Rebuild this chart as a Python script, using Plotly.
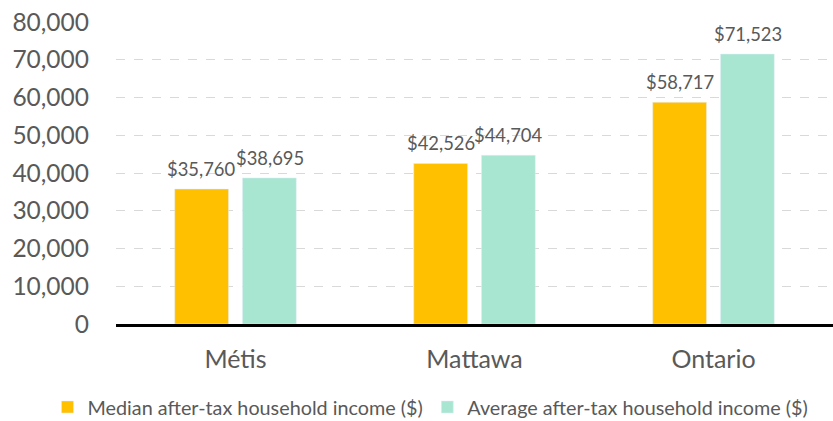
import plotly.graph_objects as go

categories = ["Métis", "Mattawa", "Ontario"]
median_income = [35760, 42526, 58717]
average_income = [38695, 44704, 71523]
series_names = ["Median after-tax household income ($)", "Average after-tax household income ($)"]
y_ticks = list(range(0, 80001, 10000))

FONT = "Lato, Calibri, Carlito, sans-serif"
GREY = "#595959"

fig = go.Figure()
for name, vals, color, lg in [(series_names[0], median_income, "#FFC000", "legend"),
                              (series_names[1], average_income, "#A8E6D2", "legend2")]:
    fig.add_trace(go.Bar(
        x=categories, y=vals, name=name, marker_color=color, legend=lg,
        cliponaxis=False,
    ))

# data labels placed over each bar of the group (offset = half a bar slot)
for vals, xshift in [(median_income, -34), (average_income, 34)]:
    for cat, v in zip(categories, vals):
        fig.add_annotation(x=cat, y=v, xref="x", yref="y", text=f"${v:,}",
                           showarrow=False, yanchor="bottom", xanchor="center",
                           xshift=xshift, yshift=7,
                           font=dict(size=18.4, color=GREY, family=FONT))

leg_common = dict(orientation="h", xref="container", yref="container",
                  xanchor="left", y=0.033, yanchor="middle",
                  font=dict(size=19.8, color=GREY, family=FONT),
                  itemwidth=30, bgcolor="rgba(0,0,0,0)")

fig.update_layout(
    width=833, height=421,
    margin=dict(l=116, r=0, t=22, b=97),
    paper_bgcolor="white", plot_bgcolor="white",
    barmode="group", bargap=0.433, bargroupgap=0.206,
    font=dict(family=FONT, color=GREY),
    showlegend=True,
    legend=dict(x=0.057, **leg_common),
    legend2=dict(x=0.513, **leg_common),
)
fig.update_yaxes(range=[0, 80000], tickvals=y_ticks, tickformat=",",
                 showgrid=True, gridcolor="#D9D9D9", griddash="dash", gridwidth=1,
                 zeroline=False, showline=False,
                 tickfont=dict(size=24.5, color=GREY, family=FONT),
                 ticklabelstandoff=26)
fig.update_xaxes(showline=True, linecolor="black", linewidth=3,
                 tickfont=dict(size=25, color=GREY, family=FONT),
                 ticklabelstandoff=11, ticks="")

fig.write_html("out.html", config={"displayModeBar": False},
               post_script="document.body.style.margin='0';document.body.style.overflow='hidden';")
